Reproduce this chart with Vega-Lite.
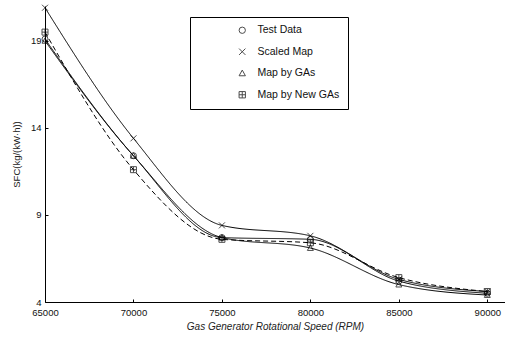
{
  "$schema": "https://vega.github.io/schema/vega-lite/v6.json",
  "width": 460,
  "height": 296,
  "autosize": "none",
  "padding": {"left": 45, "top": 6, "right": 0, "bottom": 37},
  "background": "white",
  "config": {
    "view": {"stroke": null},
    "font": "Liberation Sans",
    "axis": {
      "domainColor": "black",
      "tickColor": "black",
      "labelColor": "#111",
      "titleColor": "#222",
      "grid": false,
      "labelFont": "Liberation Sans",
      "labelFontSize": 9.5,
      "titleFont": "Liberation Sans",
      "titleFontWeight": "normal"
    }
  },
  "data": {
    "values": [
      {"rpm": 65000, "sfc": 19.1, "series": "Test Data"},
      {"rpm": 70000, "sfc": 12.4, "series": "Test Data"},
      {"rpm": 75000, "sfc": 7.7, "series": "Test Data"},
      {"rpm": 80000, "sfc": 7.6, "series": "Test Data"},
      {"rpm": 85000, "sfc": 5.2, "series": "Test Data"},
      {"rpm": 90000, "sfc": 4.5, "series": "Test Data"},
      {"rpm": 65000, "sfc": 20.9, "series": "Scaled Map"},
      {"rpm": 70000, "sfc": 13.4, "series": "Scaled Map"},
      {"rpm": 75000, "sfc": 8.4, "series": "Scaled Map"},
      {"rpm": 80000, "sfc": 7.8, "series": "Scaled Map"},
      {"rpm": 85000, "sfc": 5.3, "series": "Scaled Map"},
      {"rpm": 90000, "sfc": 4.6, "series": "Scaled Map"},
      {"rpm": 65000, "sfc": 19.0, "series": "Map by GAs"},
      {"rpm": 70000, "sfc": 12.4, "series": "Map by GAs"},
      {"rpm": 75000, "sfc": 7.7, "series": "Map by GAs"},
      {"rpm": 80000, "sfc": 7.1, "series": "Map by GAs"},
      {"rpm": 85000, "sfc": 5.0, "series": "Map by GAs"},
      {"rpm": 90000, "sfc": 4.4, "series": "Map by GAs"},
      {"rpm": 65000, "sfc": 19.5, "series": "Map by New GAs"},
      {"rpm": 70000, "sfc": 11.6, "series": "Map by New GAs"},
      {"rpm": 75000, "sfc": 7.6, "series": "Map by New GAs"},
      {"rpm": 80000, "sfc": 7.4, "series": "Map by New GAs"},
      {"rpm": 85000, "sfc": 5.4, "series": "Map by New GAs"},
      {"rpm": 90000, "sfc": 4.6, "series": "Map by New GAs"}
    ]
  },
  "encoding": {
    "x": {
      "field": "rpm",
      "type": "quantitative",
      "scale": {"domain": [65000, 91000], "nice": false, "zero": false},
      "axis": {
        "values": [65000, 70000, 75000, 80000, 85000, 90000],
        "format": "d",
        "tickSize": -3,
        "labelPadding": 8,
        "labelFlush": false,
        "title": "Gas Generator Rotational Speed (RPM)",
        "titleFontStyle": "italic",
        "titleFontSize": 10,
        "titlePadding": 5
      }
    },
    "y": {
      "field": "sfc",
      "type": "quantitative",
      "scale": {"domain": [4, 21], "nice": false, "zero": false},
      "axis": {
        "values": [4, 9, 14, 19],
        "tickSize": -3,
        "labelPadding": 7,
        "title": "SFC(kg/(kW·h))",
        "titleFontSize": 9.5,
        "titlePadding": 9
      }
    }
  },
  "layer": [
    {
      "mark": {"type": "line", "interpolate": "monotone", "color": "black", "strokeWidth": 1},
      "encoding": {
        "detail": {"field": "series"},
        "strokeDash": {
          "field": "series",
          "type": "nominal",
          "scale": {
            "domain": ["Map by New GAs", "Test Data", "Scaled Map", "Map by GAs"],
            "range": [[5, 3], [1, 0], [1, 0], [1, 0]]
          },
          "legend": null
        },
        "strokeWidth": {
          "field": "series",
          "type": "nominal",
          "scale": {
            "domain": ["Map by GAs", "Test Data", "Scaled Map", "Map by New GAs"],
            "range": [1.8, 1, 0.9, 1]
          },
          "legend": null
        }
      }
    },
    {
      "mark": {"type": "point", "filled": false, "color": "black", "strokeWidth": 1, "size": 36},
      "encoding": {
        "shape": {
          "field": "series",
          "type": "nominal",
          "scale": {
            "domain": ["Test Data", "Scaled Map", "Map by GAs", "Map by New GAs"],
            "range": ["circle", "M-1,-1L1,1M-1,1L1,-1", "M0,-1L1,0.8H-1Z", "M-1,-1H1V1H-1ZM0,-1V1M-1,0H1"]
          },
          "legend": {
            "orient": "none",
            "legendX": 145,
            "legendY": 11,
            "title": " ",
            "titleOrient": "left",
            "titlePadding": 39,
            "padding": 8,
            "strokeColor": "black",
            "fillColor": "white",
            "symbolSize": 40,
            "symbolStrokeColor": "black",
            "symbolFillColor": "transparent",
            "symbolStrokeWidth": 1,
            "rowPadding": 10.5,
            "labelOffset": 10,
            "labelFont": "Liberation Sans",
            "labelFontSize": 10.5,
            "labelColor": "#111"
          }
        }
      }
    }
  ]
}
